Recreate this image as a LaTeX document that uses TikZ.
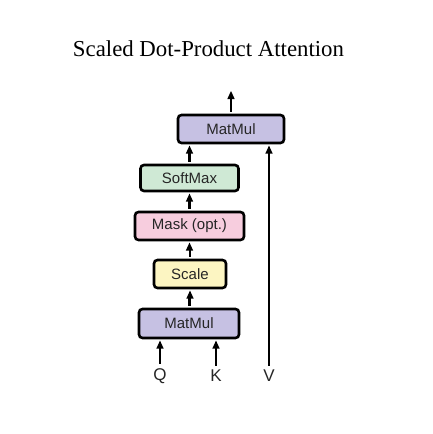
\documentclass[tikz,border=0pt]{standalone}
\usepackage{fontspec}
\setmainfont{Liberation Serif}
\newfontfamily\boxfont{Liberation Sans}
\usetikzlibrary{calc}
\definecolor{mmcol}{HTML}{C6C1E3}
\definecolor{smcol}{HTML}{CFE9D5}
\definecolor{mkcol}{HTML}{F7CDDE}
\definecolor{sccol}{HTML}{FCF5C2}
\tikzset{
  opbox/.style={draw=black, line width=2.6pt, rounded corners=3.5pt, inner sep=0pt,
    font=\boxfont\fontsize{15}{15}\selectfont, text=black!85},
  lbl/.style={font=\boxfont\fontsize{17}{17}\selectfont, text=black!85, inner sep=0pt},
}
% upward connector drawn as filled shaft and head: #1 = tail, #2 = tip
\newcommand\flowarr[2]{%
  \fill[black] ($(#1)+(-1.1,0)$) rectangle ($(#2)+(1.1,-5)$);
  \fill[black] (#2) -- ($(#2)+(-3.7,-8)$) -- ($(#2)+(3.7,-8)$) -- cycle;}
\begin{document}
\begin{tikzpicture}[x=1pt,y=1pt]
\useasboundingbox (0,0) rectangle (432,-434);
\node[anchor=base, font=\fontsize{22.8}{24}\selectfont] (title) at (208.5,-56.5) {Scaled Dot-Product Attention};
\node[opbox, fill=mmcol, minimum width=106pt, minimum height=28pt] (mm2) at (231,-129) {MatMul};
\node[opbox, fill=smcol, minimum width=98pt, minimum height=26pt] (sm) at (189.5,-178) {SoftMax};
\node[opbox, fill=mkcol, minimum width=109pt, minimum height=28pt] (mask) at (189.5,-226) {Mask (opt.)};
\node[opbox, fill=sccol, minimum width=72pt, minimum height=28pt] (scale) at (190,-274) {Scale};
\node[opbox, fill=mmcol, minimum width=100pt, minimum height=29pt] (mm1) at (189,-323.5) {MatMul};
\node[lbl] (q) at (160,-376) {Q};
\node[lbl] (k) at (216,-376) {K};
\node[lbl] (v) at (269,-376) {V};
\coordinate (out) at (231,-91);
\coordinate (qt) at ([yshift=4pt]q.north);
\coordinate (kt) at ([yshift=4pt]k.north);
\coordinate (vt) at ([yshift=4pt]v.north);
\coordinate (qh) at ([yshift=-1.3pt]q.north |- mm1.south);
\coordinate (kh) at ([yshift=-1.3pt]k.north |- mm1.south);
\coordinate (vh) at ([yshift=-1.3pt]v.north |- mm2.south);
\coordinate (mm1n) at ([yshift=1.3pt]mm1.north);
\coordinate (scs) at ([yshift=-1.3pt]scale.south);
\coordinate (scn) at ([yshift=1.3pt]scale.north);
\coordinate (mks) at ([yshift=-1.3pt]mask.south);
\coordinate (mkn) at ([yshift=1.3pt]mask.north);
\coordinate (sms) at ([yshift=-1.3pt]sm.south);
\coordinate (smn) at ([yshift=1.3pt]sm.north);
\coordinate (smh) at ([yshift=-1.3pt]sm.north |- mm2.south);
\coordinate (mm2n) at ([yshift=1.3pt]mm2.north);
\flowarr{qt}{qh}
\flowarr{kt}{kh}
\flowarr{mm1n}{scs}
\flowarr{scn}{mks}
\flowarr{mkn}{sms}
\flowarr{smn}{smh}
\flowarr{vt}{vh}
\flowarr{mm2n}{out}
\end{tikzpicture}
\end{document}
